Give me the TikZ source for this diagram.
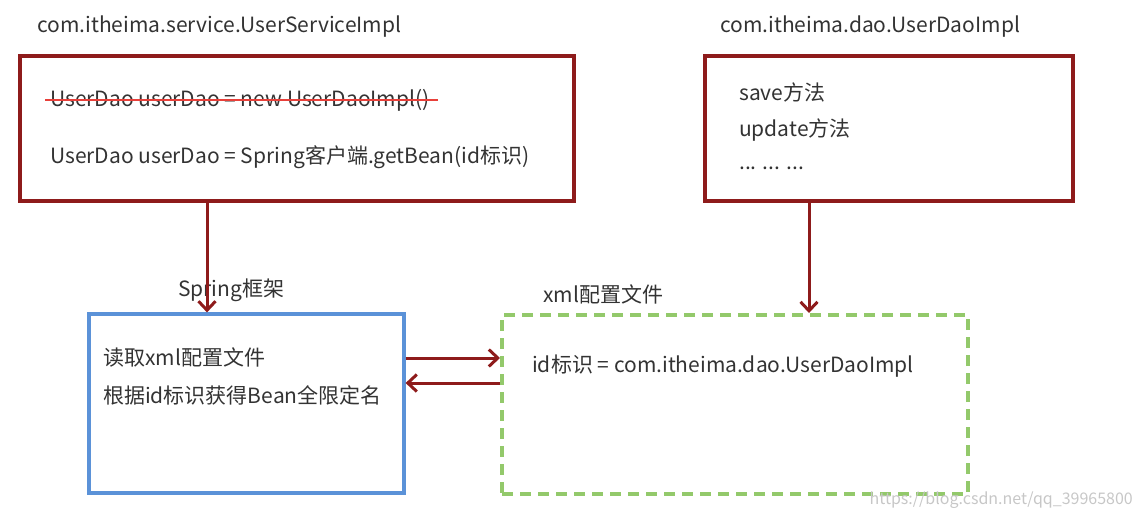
\documentclass[tikz,border=0pt]{standalone}
\usepackage{fontspec}
\setmainfont{Noto Sans CJK SC}
\usetikzlibrary{arrows.meta}
\definecolor{dred}{HTML}{8E1B1B}
\definecolor{strike}{HTML}{E8403A}
\definecolor{bblue}{HTML}{5B92D8}
\definecolor{ggreen}{HTML}{93C96B}
\definecolor{txt}{HTML}{333333}
\begin{document}
\begin{tikzpicture}[x=1pt,y=-1pt,
  lbl/.style={anchor=west,inner sep=0pt,text=txt,font=\fontsize{21}{24}\selectfont},
  arr/.style={draw=dred,line width=3pt,-{Straight Barb[length=9pt,width=17pt,line width=3pt]}}
]
\useasboundingbox (0,0) rectangle (1137,519);
% top-left
\node[lbl] (t1) at (37,27) {com.itheima.service.UserServiceImpl};
\node[draw=dred,line width=3.6pt,minimum width=554pt,minimum height=145pt,inner sep=0pt] (box1) at (297,128.5) {};
\node[lbl] (s1) at (50,100) {UserDao userDao = new UserDaoImpl()};
\draw[strike,line width=2.6pt] ([xshift=-5pt]s1.west) -- ([xshift=8pt]s1.east);
\node[lbl] (s2) at (50,157) {UserDao userDao = Spring客户端.getBean(id标识)};
% top-right
\node[lbl] (t2) at (720,27) {com.itheima.dao.UserDaoImpl};
\node[draw=dred,line width=3.6pt,minimum width=368pt,minimum height=145pt,inner sep=0pt] (box2) at (889,128.5) {};
\node[lbl] (m1) at (739,92) {save方法};
\node[lbl] (m2) at (739,130) {update方法};
\node[lbl] (m3) at (739,168) {... ... ...};
% blue box
\node[lbl] (t3) at (178,290) {Spring框架};
\node[draw=bblue,line width=3.2pt,minimum width=315pt,minimum height=179pt,inner sep=0pt] (blue) at (246.5,403.5) {};
\node[lbl] (b1) at (103,357) {读取xml配置文件};
\node[lbl] (b2) at (103,395) {根据id标识获得Bean全限定名};
% green box
\node[lbl] (t4) at (543,294) {xml配置文件};
\node[draw=ggreen,line width=4pt,dash pattern=on 11pt off 7pt,minimum width=466pt,minimum height=179pt,inner sep=0pt] (green) at (735,404.5) {};
\node[lbl] (g1) at (532,366) {id标识 = com.itheima.dao.UserDaoImpl};
% arrows
\draw[arr] (box1.south -| 207,0) -- (blue.north -| 207,0);
\draw[arr] (box2.south -| 809,0) -- (green.north -| 809,0);
\draw[arr] (blue.east |- 0,358) -- (green.west |- 0,358);
\draw[arr] (green.west |- 0,383) -- (blue.east |- 0,383);
% watermark
\node[anchor=east,inner sep=0pt,text=black!22,font=\fontsize{16}{18}\selectfont] (wm) at (1133,500) {https://blog.csdn.net/qq\_39965800};
\end{tikzpicture}
\end{document}
